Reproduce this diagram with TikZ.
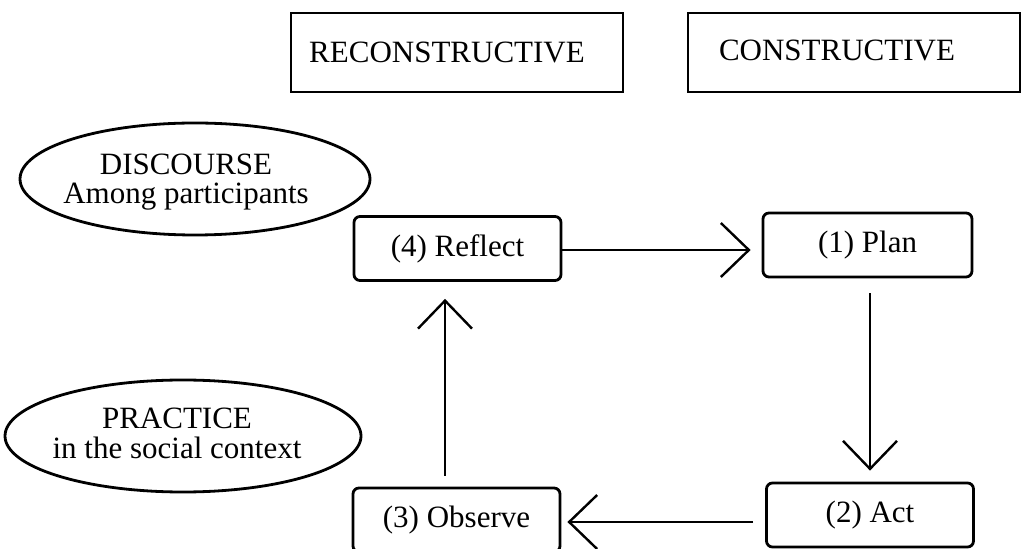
\documentclass[tikz,border=0pt]{standalone}
\usepackage{fontspec}
\setmainfont{Liberation Serif}
\usetikzlibrary{shapes.geometric,arrows.meta}
\begin{document}
\begin{tikzpicture}[x=0.5pt,y=-0.5pt,
  every node/.style={font=\fontsize{15.5}{15}\selectfont},
  headbox/.style={draw,line width=1.4pt,minimum width=166pt,minimum height=39.5pt,inner sep=0pt},
  stagebox/.style={draw,line width=1.4pt,rounded corners=3pt,minimum width=103.5pt,minimum height=32pt,inner sep=0pt},
  oval/.style={draw,ellipse,line width=1.4pt,inner sep=0pt},
  ovaltext/.style={align=center,inner sep=0pt},
  flow/.style={line width=1.2pt,-{Straight Barb[length=14pt,width=27pt,line width=1.2pt]}}
]
\useasboundingbox (0,0) rectangle (1031,549);
\begin{scope}
\clip (0,0) rectangle (1031,549);
% column headings
\node[headbox] (rec) at (457,52.5) {\hspace*{-10pt}\raisebox{-1.5pt}{RECONSTRUCTIVE}};
\node[headbox] (con) at (854,52.5) {\hspace*{-17pt}\raisebox{2pt}{CONSTRUCTIVE}};
% the two domains
\node[oval,minimum width=175pt,minimum height=56pt] (disc) at (195,179) {};
\node[ovaltext] (disctext) at (186,182) {DISCOURSE\\[-0.5pt]Among participants};
\node[oval,minimum width=178pt,minimum height=56pt] (prac) at (183,436) {};
\node[ovaltext] (practext) at (177,433) {PRACTICE\\[0pt]in the social context};
% the four stages of the cycle
\node[stagebox] (reflect) at (457.5,248.5) {(4) Reflect};
\node[stagebox,minimum width=104.5pt] (plan) at (867.5,245) {(1) Plan};
\node[stagebox] (act) at (870,515) {(2) Act};
\node[stagebox] (observe) at (456.5,520) {(3) Observe};
% cycle arrows
\draw[flow,shorten >=5.5pt] ([yshift=-0.75pt]reflect.east) -- ([yshift=-0.75pt]reflect.east -| plan.west);
\draw[flow,shorten <=7.5pt,shorten >=5.5pt] ([xshift=1.25pt]plan.south) -- ([xshift=1.25pt]plan.south |- act.north);
\draw[flow,shorten <=6pt,shorten >=3pt] ([yshift=-3.5pt]act.west) -- ([yshift=-3.5pt]act.west -| observe.east);
\draw[flow,shorten <=5.5pt,shorten >=8.5pt] ([xshift=-5.75pt]observe.north) -- ([xshift=-5.75pt]observe.north |- reflect.south);
\end{scope}
\end{tikzpicture}
\end{document}
